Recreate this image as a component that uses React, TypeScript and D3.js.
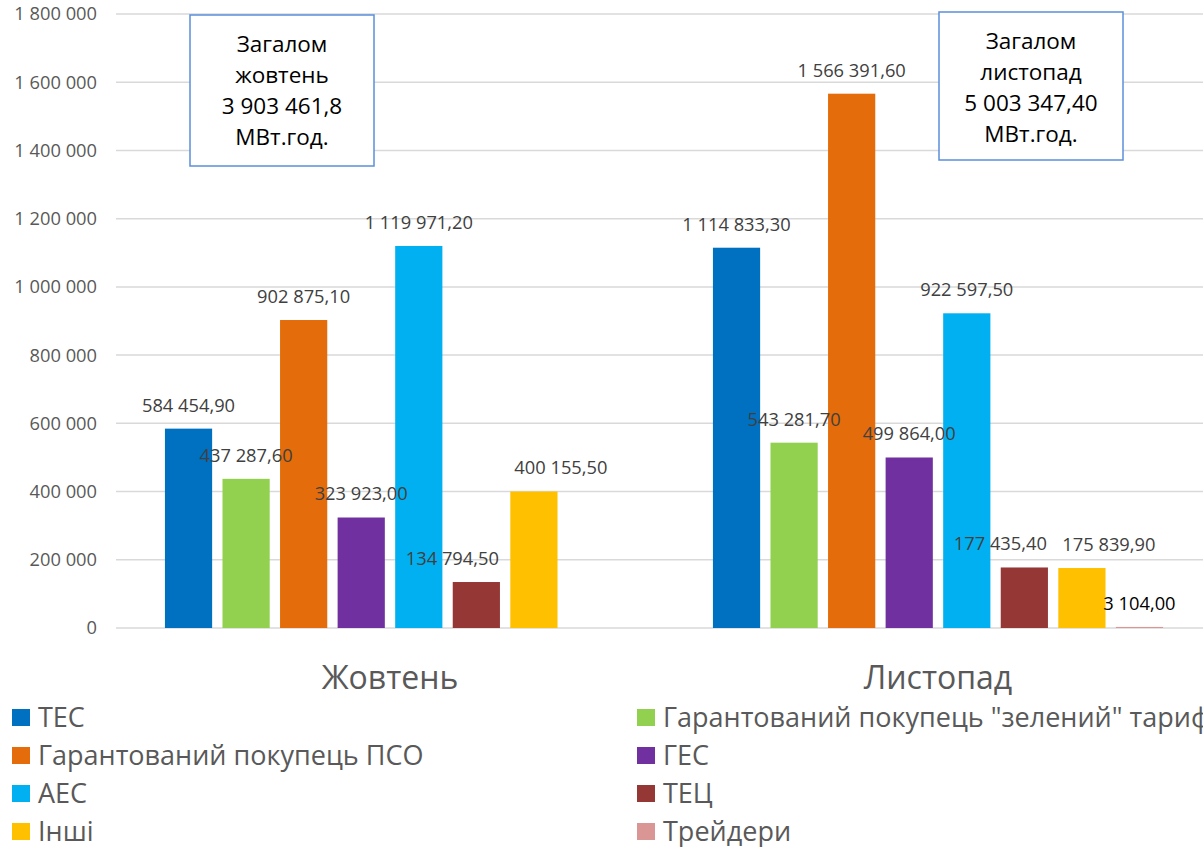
import React from "react";
import * as d3 from "d3";

const months = ["Жовтень", "Листопад"];
const seriesNames = [
  "ТЕС",
  "Гарантований покупець \"зелений\" тариф",
  "Гарантований покупець ПСО",
  "ГЕС",
  "АЕС",
  "ТЕЦ",
  "Інші",
  "Трейдери",
];
const seriesColors = ["#0070C0", "#92D050", "#E46C0A", "#7030A0", "#00B0F0", "#953735", "#FFC000", "#D99694"];
const octValues: (number | null)[] = [584454.9, 437287.6, 902875.1, 323923.0, 1119971.2, 134794.5, 400155.5, null];
const novValues: (number | null)[] = [1114833.3, 543281.7, 1566391.6, 499864.0, 922597.5, 177435.4, 175839.9, 3104.0];
const yTicks = [0, 200000, 400000, 600000, 800000, 1000000, 1200000, 1400000, 1600000, 1800000];
const labelShift = [0, 0, 0, 0, 0, -24, 27, 0];
const labelColor = ["#404040", "#404040", "#404040", "#404040", "#404040", "#404040", "#404040", "#000000"];
const octBox = ["Загалом", "жовтень", "3 903 461,8", "МВт.год."];
const novBox = ["Загалом", "листопад", "5 003 347,40", "МВт.год."];

const W = 1203;
const H = 847;
const FONT = "'Open Sans', 'Noto Sans', sans-serif";

const loc = d3.formatLocale({ decimal: ",", thousands: "\u00a0", grouping: [3], currency: ["", ""] });
const fmtVal = loc.format(",.2f");
const fmtTick = loc.format(",.0f");

export default function App() {
  const plotLeft = 116;
  const plotRight = 1212;
  const y = d3.scaleLinear().domain([0, 1800000]).range([628, 14]);
  const x0 = d3.scaleBand<string>().domain(months).range([plotLeft, plotRight]).padding(0);
  const x1 = d3
    .scaleBand<string>()
    .domain(seriesNames)
    .range([0, x0.bandwidth()])
    .paddingInner(0.18)
    .paddingOuter(0.85);
  const data = [octValues, novValues];

  const legendCols = [12, 637];
  const legendRow0 = 717.5;
  const legendStep = 38;

  return (
    <svg
      width={W}
      height={H}
      style={{ position: "absolute", left: 0, top: 0, background: "#fff" }}
      fontFamily={FONT}
    >
      <rect x={0} y={0} width={W} height={H} fill="#fff" />
      {/* gridlines */}
      {yTicks.map((t) => (
        <line key={"g" + t} x1={plotLeft} x2={W} y1={y(t)} y2={y(t)} stroke="#D9D9D9" strokeWidth={1.5} />
      ))}
      {/* y tick labels */}
      {yTicks.map((t) => (
        <text
          key={"t" + t}
          x={97}
          y={y(t)}
          dy="0.35em"
          textAnchor="end"
          fontSize={18.3}
          fill="#595959"
        >
          {fmtTick(t)}
        </text>
      ))}
      {/* bars */}
      {months.map((m, gi) =>
        seriesNames.map((s, si) => {
          const v = data[gi][si];
          if (v == null) return null;
          const bx = (x0(m) as number) + (x1(s) as number);
          return (
            <rect
              key={m + s}
              x={bx}
              y={y(v)}
              width={x1.bandwidth()}
              height={y(0) - y(v)}
              fill={seriesColors[si]}
            />
          );
        })
      )}
      {/* data labels */}
      {months.map((m, gi) =>
        seriesNames.map((s, si) => {
          const v = data[gi][si];
          if (v == null) return null;
          const cx = (x0(m) as number) + (x1(s) as number) + x1.bandwidth() / 2 + labelShift[si];
          return (
            <text
              key={"l" + m + s}
              x={cx}
              y={y(v) - 23.5}
              dy="0.35em"
              textAnchor="middle"
              fontSize={18.3}
              fill={labelColor[si]}
            >
              {fmtVal(v)}
            </text>
          );
        })
      )}
      {/* category labels */}
      {months.map((m) => (
        <text
          key={"c" + m}
          x={(x0(m) as number) + x0.bandwidth() / 2}
          y={678}
          dy="0.35em"
          textAnchor="middle"
          fontSize={32}
          fill="#595959"
        >
          {m}
        </text>
      ))}
      {/* total boxes */}
      {[
        { lines: octBox, x: 190, y: 15, w: 184, h: 151 },
        { lines: novBox, x: 939, y: 12, w: 184, h: 148 },
      ].map((b, bi) => (
        <g key={"b" + bi}>
          <rect x={b.x} y={b.y} width={b.w} height={b.h} fill="#fff" stroke="#5B8FD9" strokeWidth={1.5} />
          {b.lines.map((ln, li) => (
            <text
              key={li}
              x={b.x + b.w / 2}
              y={b.y + 29 + li * 31}
              dy="0.35em"
              textAnchor="middle"
              fontSize={22.5}
              fill="#000"
            >
              {ln}
            </text>
          ))}
        </g>
      ))}
      {/* legend */}
      {seriesNames.map((s, i) => {
        const col = i % 2;
        const row = Math.floor(i / 2);
        const lx = legendCols[col];
        const ly = legendRow0 + row * legendStep;
        return (
          <g key={"lg" + s}>
            <rect x={lx} y={ly - 8.5} width={18} height={17} fill={seriesColors[i]} />
            <text x={lx + 26} y={ly} dy="0.35em" fontSize={27} fill="#595959">
              {s}
            </text>
          </g>
        );
      })}
    </svg>
  );
}
